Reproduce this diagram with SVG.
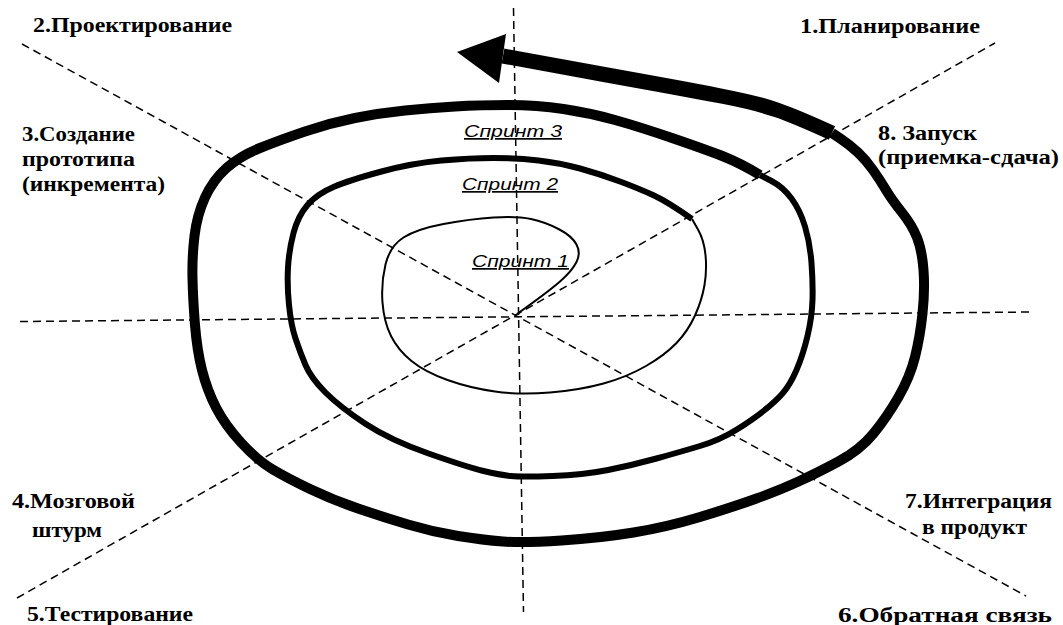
<svg xmlns="http://www.w3.org/2000/svg" width="1063" height="625" viewBox="0 0 1063 625">
<style>
.axis{stroke:#000;stroke-width:1.5;stroke-dasharray:8 5;fill:none}
.sp{fill:none;stroke:#000;stroke-linejoin:round}
.lbl{font-family:"Liberation Serif","Times New Roman",serif;font-weight:bold;font-size:20px;fill:#000}
.spr{font-family:"Liberation Sans",Arial,sans-serif;font-style:italic;font-size:17px;fill:#000;text-decoration:underline}
</style>
<rect width="1063" height="625" fill="#fff"/>
<g id="connectors">
<g id="axes">
<line class="axis" x1="513.5" y1="8" x2="523.5" y2="612"/>
<line class="axis" x1="20" y1="321.5" x2="1030" y2="312"/>
<line class="axis" x1="22" y1="44" x2="1026" y2="596"/>
<line class="axis" x1="17" y1="598" x2="995" y2="43"/>
</g>
<g id="spiral">
<path class="sp" stroke-width="2" d="M517,314 Q548,292 560,281.5 Q572,271 576.5,262 Q581,253 576.5,244.5 Q572,236 558.5,229 Q545,222 531,219 Q517,216 493.5,217.5 Q470,219 443.5,224 Q417,229 403.5,237.5 Q390,246 385.5,264.5 Q381,283 382.5,302.5 Q384,322 391,336 Q398,350 411.5,361 Q425,372 447.5,380 Q470,388 495,391.5 Q520,395 550,392.5 Q580,390 603.5,383.5 Q627,377 646,366 Q665,355 676.5,343 Q688,331 695,315.5 Q702,300 704.5,285 Q707,270 705.5,255 Q704,240 698,229.5 L692,219"/>
<path class="sp" stroke-width="6" d="M692,219 Q668,202 654,195.5 Q640,189 620,181.5 Q600,174 580,168.5 Q560,163 538.5,160.5 Q517,158 493.5,158 Q470,158 441.5,160.5 Q413,163 381.5,171.5 Q350,180 333.5,187 Q317,194 307.5,205 Q298,216 293.5,233 Q289,250 288,267.5 Q287,285 289,305 Q291,325 295.5,338.5 Q300,352 305.5,365 Q311,378 325.5,392.5 Q340,407 365,423.5 Q390,440 428.5,453.5 Q467,467 483.5,471 Q500,475 511,476 Q522,477 552.5,476 Q583,475 608,470 Q633,465 656.5,458.5 Q680,452 700,446 Q720,440 736,430 Q752,420 763.5,411 Q775,402 782.5,393.5 Q790,385 796.5,370 Q803,355 807.5,336 Q812,317 812.5,300 Q813,283 811.5,263 Q810,243 805,226.5 Q800,210 791.5,198.5 Q783,187 771.5,181 L760,175"/>
<path class="sp" stroke-width="10" d="M760,175 Q740,163 723.5,156.5 Q707,150 673.5,138.5 Q640,127 615,120 Q590,113 563.5,109 Q537,105 508.5,105 Q480,105 455,106.5 Q430,108 405,110.5 Q380,113 355,118 Q330,123 305,131.5 Q280,140 260,148 Q240,156 226.5,168 Q213,180 205,197.5 Q197,215 194.5,236 Q192,257 192.5,278.5 Q193,300 195,325 Q197,350 202,370 Q207,390 216,407.5 Q225,425 241,442.5 Q257,460 272,469 Q287,478 310,489 Q333,500 358,508.5 Q383,517 408,524.5 Q433,532 458,536 Q483,540 503,541.5 Q523,543 561.5,540.5 Q600,538 633.5,532.5 Q667,527 700,517 Q733,507 756.5,498.5 Q780,490 798.5,481.5 Q817,473 838.5,461.5 Q860,450 873.5,433.5 Q887,417 898.5,397 Q910,377 915,357 Q920,337 922.5,313.5 Q925,290 923.5,270 Q922,250 917,237.5 Q912,225 902,212.5 Q892,200 886,190 Q880,180 873,170 Q866,160 858,152.5 Q850,145 841,139 L832,133"/>
<path class="sp" stroke-width="15" d="M832,133 Q797,117 777,110 Q757,103 723.5,96.5 Q690,90 648.5,82.5 L607,75 L503,56"/>
<polygon points="457,52 506,34 499,83" fill="#000"/>
</g>
</g>
<g id="n1"><text class="lbl" x="800" y="33" textLength="180" lengthAdjust="spacingAndGlyphs">1.Планирование</text></g>
<g id="n2"><text class="lbl" x="33" y="32" textLength="199" lengthAdjust="spacingAndGlyphs">2.Проектирование</text></g>
<g id="n3">
<text class="lbl" x="22" y="141" textLength="113" lengthAdjust="spacingAndGlyphs">3.Создание</text>
<text class="lbl" x="22" y="166" textLength="113" lengthAdjust="spacingAndGlyphs">прототипа</text>
<text class="lbl" x="22" y="191" textLength="143" lengthAdjust="spacingAndGlyphs">(инкремента)</text>
</g>
<g id="n4">
<text class="lbl" x="12" y="508" textLength="123" lengthAdjust="spacingAndGlyphs">4.Мозговой</text>
<text class="lbl" x="32" y="537" textLength="70" lengthAdjust="spacingAndGlyphs">штурм</text>
</g>
<g id="n5"><text class="lbl" x="27" y="621" textLength="166" lengthAdjust="spacingAndGlyphs">5.Тестирование</text></g>
<g id="n6"><text class="lbl" x="838" y="622" textLength="214" lengthAdjust="spacingAndGlyphs">6.Обратная связь</text></g>
<g id="n7">
<text class="lbl" x="905" y="508" textLength="147" lengthAdjust="spacingAndGlyphs">7.Интеграция</text>
<text class="lbl" x="922" y="534" textLength="105" lengthAdjust="spacingAndGlyphs">в продукт</text>
</g>
<g id="n8">
<text class="lbl" x="878" y="140" textLength="99" lengthAdjust="spacingAndGlyphs">8. Запуск</text>
<text class="lbl" x="878" y="164" textLength="181" lengthAdjust="spacingAndGlyphs">(приемка-сдача)</text>
</g>
<g id="sprint1"><text class="spr" x="472" y="267" textLength="97" lengthAdjust="spacingAndGlyphs">Спринт 1</text></g>
<g id="sprint2"><text class="spr" x="462" y="190" textLength="96" lengthAdjust="spacingAndGlyphs">Спринт 2</text></g>
<g id="sprint3"><text class="spr" x="464" y="137" textLength="98" lengthAdjust="spacingAndGlyphs">Спринт 3</text></g>
</svg>
